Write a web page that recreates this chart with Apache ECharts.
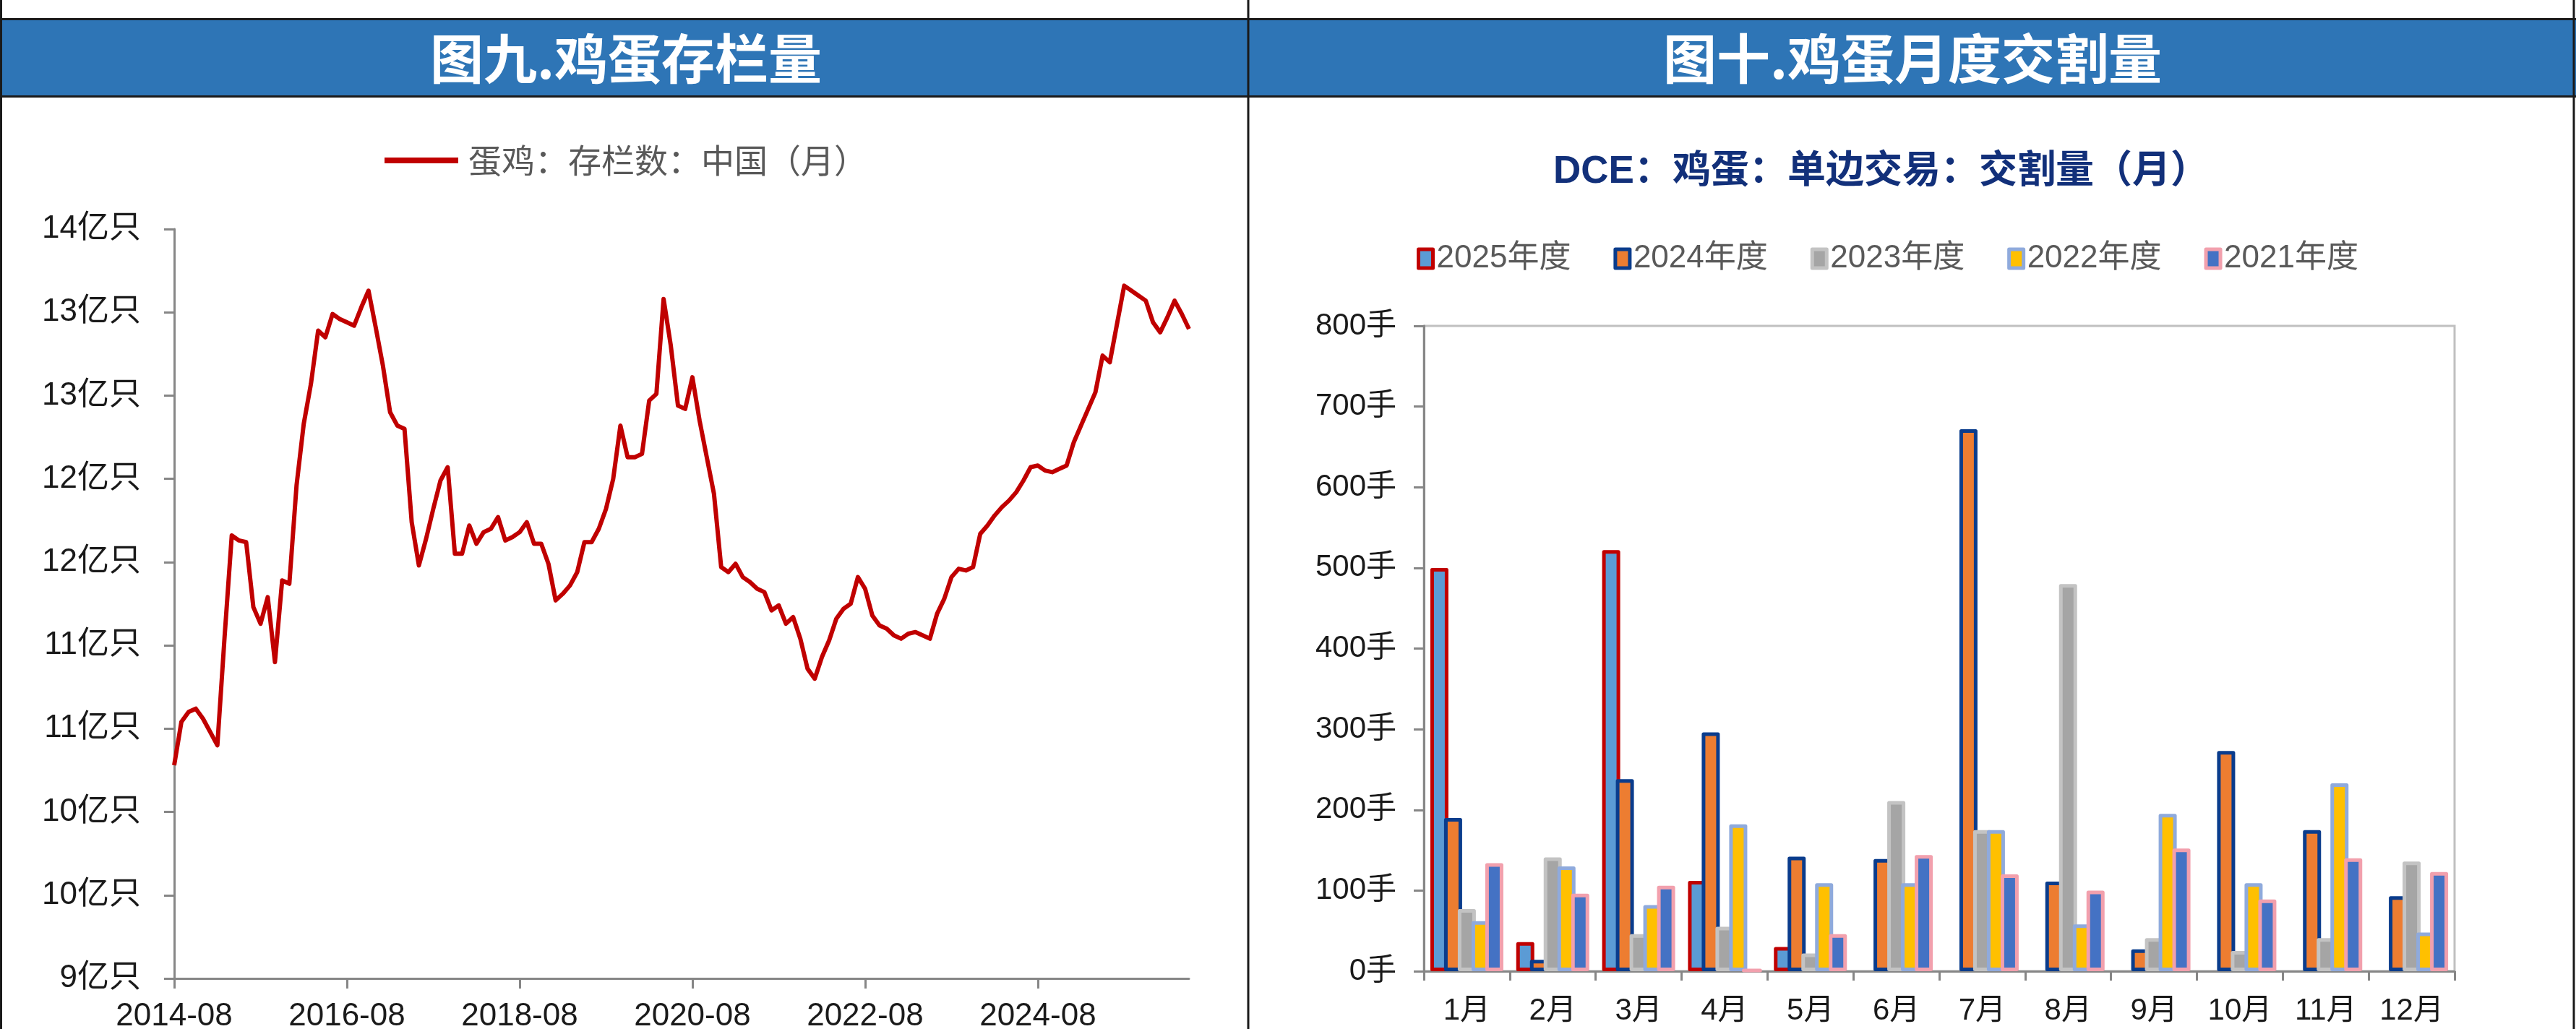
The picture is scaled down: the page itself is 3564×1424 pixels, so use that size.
<!DOCTYPE html>
<html>
<head>
<meta charset="utf-8">
<title>鸡蛋存栏量 / 鸡蛋月度交割量</title>
<script src="https://cdn.jsdelivr.net/npm/echarts@6/dist/echarts.min.js"></script>
<style>
    html, body { margin: 0; padding: 0; background: #fff; }
    #main { width: 3564px; height: 1424px; }
</style>
</head>
<body>
<div id="main"></div>
<script>
// 图九：蛋鸡存栏数（亿只），月度，从 2014-08 开始
const stockStart = [2014, 8];
const stockName = '蛋鸡：存栏数：中国（月）';
const stockValues = [
    10.28, 10.54, 10.60, 10.62, 10.56, 10.48, 10.40, 11.05, 11.66, 11.63,
    11.62, 11.23, 11.13, 11.29, 10.90, 11.39, 11.37, 11.96, 12.33, 12.57,
    12.89, 12.85, 12.99, 12.96, 12.94, 12.92, 13.03, 13.13, 12.91, 12.68,
    12.40, 12.32, 12.30, 11.74, 11.48, 11.64, 11.82, 11.99, 12.07, 11.55,
    11.55, 11.72, 11.61, 11.68, 11.70, 11.77, 11.63, 11.65, 11.68, 11.74,
    11.61, 11.61, 11.49, 11.27, 11.31, 11.36, 11.44, 11.62, 11.62, 11.70,
    11.82, 12.00, 12.32, 12.13, 12.13, 12.15, 12.47, 12.51, 13.08, 12.80,
    12.44, 12.42, 12.61, 12.35, 12.13, 11.91, 11.47, 11.44, 11.49, 11.41,
    11.38, 11.34, 11.32, 11.21, 11.24, 11.13, 11.17, 11.04, 10.86, 10.80,
    10.93, 11.03, 11.16, 11.22, 11.25, 11.41, 11.34, 11.18, 11.12, 11.10,
    11.06, 11.04, 11.07, 11.08, 11.06, 11.04, 11.19, 11.28, 11.41, 11.46,
    11.45, 11.47, 11.67, 11.72, 11.78, 11.83, 11.87, 11.92, 11.99, 12.07,
    12.08, 12.05, 12.04, 12.06, 12.08, 12.22, 12.32, 12.42, 12.52, 12.74,
    12.70, 12.93, 13.16, 13.13, 13.10, 13.07, 12.94, 12.88, 12.97, 13.07,
    12.99, 12.90
];

// 图十：DCE 鸡蛋月度交割量（手）
const months = ['1月', '2月', '3月', '4月', '5月', '6月', '7月', '8月', '9月', '10月', '11月', '12月'];
const years = ['2025年度', '2024年度', '2023年度', '2022年度', '2021年度'];
const delivery2025 = [500, 36, 522, 112, 30, null, null, null, null, null, null, null];
const delivery2024 = [190, 14, 238, 296, 142, 139, 672, 111, 27, 273, 175, 93];
const delivery2023 = [77, 141, 46, 55, 22, 211, 175, 480, 41, 25, 41, 136];
const delivery2022 = [62, 130, 82, 182, 109, 109, 175, 58, 195, 109, 233, 48];
const delivery2021 = [134, 96, 106, 2, 46, 144, 120, 100, 152, 89, 140, 123];

// 月份标签
const stockMonths = stockValues.map((_, i) => {
    const t = stockStart[0] * 12 + stockStart[1] - 1 + i;
    return Math.floor(t / 12) + '-' + String(t % 12 + 1).padStart(2, '0');
});

const FONT = "'Liberation Sans', 'Noto Sans CJK SC', sans-serif";
const CJK = "'Noto Sans CJK SC', sans-serif";
const AXIS_GRAY = '#868686';
const TEXT = '#1a1a1a';

// 每个年度：填充色 + 边框色
const barStyles = [
    { fill: '#5B9BD5', border: '#C00000' },
    { fill: '#ED7D31', border: '#0A3C8C' },
    { fill: '#A5A5A5', border: '#C3C3C3' },
    { fill: '#FFC000', border: '#8FAADC' },
    { fill: '#4472C4', border: '#F2A0AD' }
];
const barData = [delivery2025, delivery2024, delivery2023, delivery2022, delivery2021];

const chart = echarts.init(document.getElementById('main'));

const option = {
    backgroundColor: '#fff',
    animation: false,
    graphic: [
        { type: 'rect', shape: { x: 0, y: 27, width: 3564, height: 106 }, style: { fill: '#2E75B6' } },
        { type: 'line', shape: { x1: 0, y1: 26.5, x2: 3564, y2: 26.5 }, style: { stroke: '#1a1a1a', lineWidth: 3 } },
        { type: 'line', shape: { x1: 0, y1: 133.5, x2: 3564, y2: 133.5 }, style: { stroke: '#1a1a1a', lineWidth: 3 } },
        { type: 'line', shape: { x1: 1.5, y1: 0, x2: 1.5, y2: 1424 }, style: { stroke: '#1a1a1a', lineWidth: 3 } },
        { type: 'line', shape: { x1: 1727, y1: 0, x2: 1727, y2: 1424 }, style: { stroke: '#1a1a1a', lineWidth: 3 } },
        { type: 'line', shape: { x1: 3561, y1: 0, x2: 3561, y2: 1424 }, style: { stroke: '#1a1a1a', lineWidth: 3 } },
        {
            type: 'text', x: 866, y: 81,
            style: { text: '图九.鸡蛋存栏量', fill: '#fff', fontSize: 74, fontWeight: 'bold', fontFamily: CJK, align: 'center', verticalAlign: 'middle' }
        },
        {
            type: 'text', x: 2646, y: 81,
            style: { text: '图十.鸡蛋月度交割量', fill: '#fff', fontSize: 74, fontWeight: 'bold', fontFamily: CJK, align: 'center', verticalAlign: 'middle' }
        },
        {
            type: 'text', x: 2149, y: 238,
            style: { text: 'DCE：鸡蛋：单边交易：交割量（月）', fill: '#12307A', fontSize: 53, fontWeight: 'bold', fontFamily: FONT, align: 'left', verticalAlign: 'middle' }
        }
    ],
    legend: [
        {
            data: [stockName],
            left: 527,
            top: 194,
            icon: 'rect',
            itemWidth: 102,
            itemHeight: 8,
            textStyle: { fontSize: 46, color: '#595959', fontFamily: CJK, padding: [0, 0, 0, 9] }
        },
        {
            data: years,
            left: 1955,
            top: 331,
            icon: 'rect',
            itemWidth: 20,
            itemHeight: 26,
            itemGap: 59,
            itemStyle: { borderWidth: 5 },
            textStyle: { fontSize: 44, color: '#595959', fontFamily: FONT }
        }
    ],
    grid: [
        { left: 241, top: 317, width: 1404, height: 1037, outerBoundsMode: 'none', containLabel: false },
        {
            left: 1970, top: 451, width: 1426, height: 893, outerBoundsMode: 'none', containLabel: false,
            show: true, borderColor: '#c0c0c0', borderWidth: 3
        }
    ],
    xAxis: [
        {
            type: 'category',
            gridIndex: 0,
            data: stockMonths,
            boundaryGap: false,
            axisLine: { show: true, lineStyle: { color: AXIS_GRAY, width: 3 } },
            axisTick: { show: true, interval: 23, length: 14, lineStyle: { color: AXIS_GRAY, width: 3 } },
            axisLabel: { interval: 23, fontSize: 44, color: TEXT, fontFamily: FONT, margin: 31 },
            splitLine: { show: false }
        },
        {
            type: 'category',
            gridIndex: 1,
            data: months,
            axisLine: { show: true, lineStyle: { color: AXIS_GRAY, width: 3 } },
            axisTick: { show: true, length: 13, lineStyle: { color: AXIS_GRAY, width: 3 } },
            axisLabel: { fontSize: 42, color: TEXT, fontFamily: FONT, margin: 34 },
            splitLine: { show: false }
        }
    ],
    yAxis: [
        {
            type: 'value',
            gridIndex: 0,
            min: 9,
            max: 13.5,
            interval: 0.5,
            axisLine: { show: true, lineStyle: { color: AXIS_GRAY, width: 3 } },
            axisTick: { show: true, length: 14, lineStyle: { color: AXIS_GRAY, width: 3 } },
            axisLabel: {
                fontSize: 44, color: TEXT, fontFamily: FONT, margin: 46,
                formatter: v => Math.round(v) + '亿只'
            },
            splitLine: { show: false }
        },
        {
            type: 'value',
            gridIndex: 1,
            min: 0,
            max: 800,
            interval: 100,
            axisLine: { show: true, lineStyle: { color: AXIS_GRAY, width: 3 } },
            axisTick: { show: true, length: 14, lineStyle: { color: AXIS_GRAY, width: 3 } },
            axisLabel: { fontSize: 42, color: TEXT, fontFamily: FONT, margin: 38, formatter: '{value}手' },
            splitLine: { show: false }
        }
    ],
    series: [
        {
            name: stockName,
            type: 'line',
            xAxisIndex: 0,
            yAxisIndex: 0,
            data: stockValues,
            symbol: 'none',
            lineStyle: { color: '#C00000', width: 6, join: 'round' },
            itemStyle: { color: '#C00000' }
        }
    ].concat(years.map((name, i) => ({
        name: name,
        type: 'bar',
        xAxisIndex: 1,
        yAxisIndex: 1,
        data: barData[i],
        barWidth: 25,
        barGap: '-24%',
        itemStyle: {
            color: barStyles[i].fill,
            borderColor: barStyles[i].border,
            borderWidth: 5,
            borderJoin: 'round'
        }
    })))
};

chart.setOption(option);

window.addEventListener('resize', () => {
    chart.resize();
});
</script>
</body>
</html>
